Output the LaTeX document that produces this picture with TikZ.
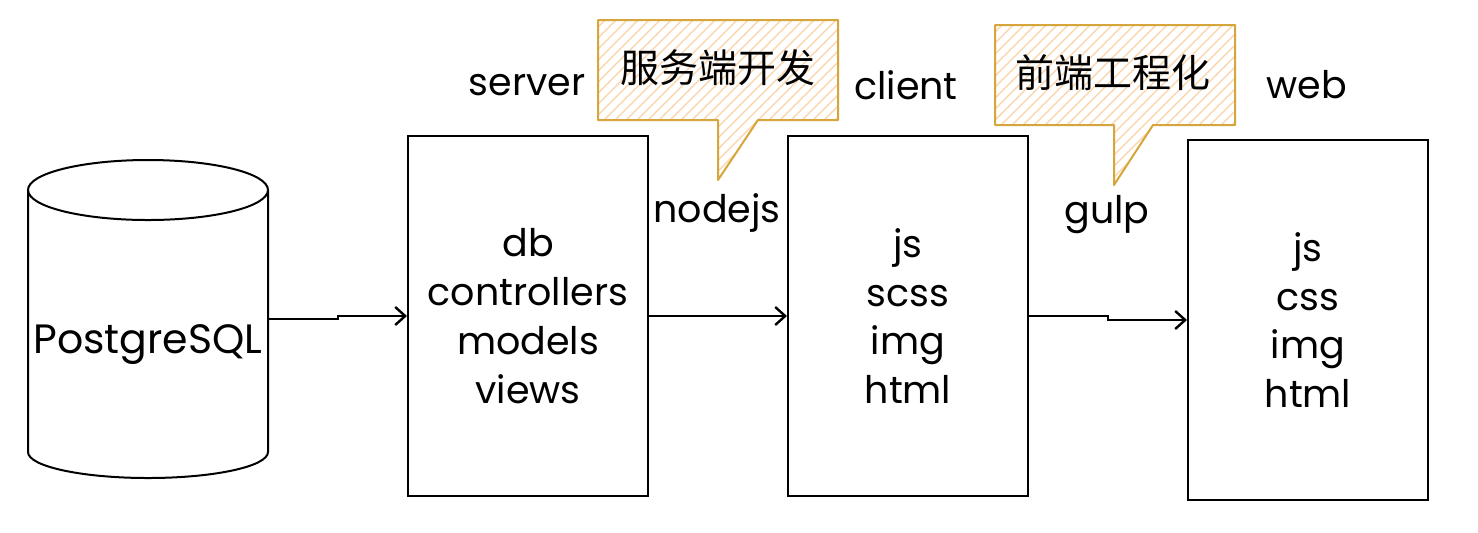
\documentclass[tikz,border=0pt]{standalone}
\usepackage{fontspec}
\setmainfont{Poppins}
\newfontfamily\cjk{Noto Sans CJK SC}
\usetikzlibrary{arrows.meta,calc}
\definecolor{callstroke}{HTML}{D6A53B}
\definecolor{hatchcol}{HTML}{FAD7AE}
\begin{document}
\begin{tikzpicture}[x=0.5pt,y=-0.5pt,
  box/.style={draw, line width=1pt, minimum width=120pt, minimum height=180pt, inner sep=0pt, align=center, font=\fontsize{19}{24.4}\selectfont},
  lbl/.style={font=\fontsize{19}{22}\selectfont, inner sep=0pt},
  cjklbl/.style={font=\cjk\fontsize{19.5}{22}\selectfont, inner sep=0pt},
  conn/.style={line width=1pt, -{Straight Barb[length=5pt,width=9pt,line width=1.2pt]}},
  callout/.style={draw=callstroke, line width=1pt, line join=round},
  hatch/.style={draw=hatchcol, line width=0.7pt}
]
\useasboundingbox (0,0) rectangle (1478,532);

% cylinder
\draw[line width=1pt] (28,190) -- (28,452) arc[start angle=180, end angle=360, x radius=120, y radius=-26] -- (268,190);
\draw[line width=1pt] (148,190) ellipse [x radius=120, y radius=30];
\node[minimum width=120pt, minimum height=159pt, inner sep=0pt] (pg) at (148,319) {};
\node[font=\fontsize{20.5}{24}\selectfont, inner sep=0pt] (pgl) at (148,345) {PostgreSQL};

% boxes
\node[box] (srv) at (528,316) {db\\controllers\\models\\views};
\node[box] (cli) at (908,316) {js\\scss\\img\\html};
\node[box] (web) at (1308,320) {js\\css\\img\\html};

% labels
\node[lbl] (lserver) at (527,85) {server};
\node[lbl] (lclient) at (906,85) {client};
\node[lbl] (lweb) at (1307,85) {web};
\node[lbl] (lnode) at (717,213) {nodejs};
\node[lbl] (lgulp) at (1107,215) {gulp};

% connectors
\draw[conn] (pg.east) -| ($(pg.east)!0.5!(srv.west)$) |- (srv.west);
\draw[conn] (srv.east) -- (cli.west);
\draw[conn] (cli.east) -| ($(cli.east)!0.5!(web.west)$) |- (web.west);

% callout 1
\begin{scope}
  \clip (598,20) -- (838,20) -- (838,120) -- (758,120) -- (718,180) -- (718,120) -- (598,120) -- cycle;
  \foreach \i in {-240,-229,...,260} \draw[hatch] (598+\i,190) -- ++(200,-200);
\end{scope}
\draw[callout] (598,20) -- (838,20) -- (838,120) -- (758,120) -- (718,180) -- (718,120) -- (598,120) -- cycle;
\node[cjklbl] (c1) at (718,68) {服务端开发};

% callout 2
\begin{scope}
  \clip (995,25) -- (1235,25) -- (1235,125) -- (1153,125) -- (1114,185) -- (1114,125) -- (995,125) -- cycle;
  \foreach \i in {-240,-229,...,260} \draw[hatch] (995+\i,195) -- ++(200,-200);
\end{scope}
\draw[callout] (995,25) -- (1235,25) -- (1235,125) -- (1153,125) -- (1114,185) -- (1114,125) -- (995,125) -- cycle;
\node[cjklbl] (c2) at (1113,73) {前端工程化};
\end{tikzpicture}
\end{document}
